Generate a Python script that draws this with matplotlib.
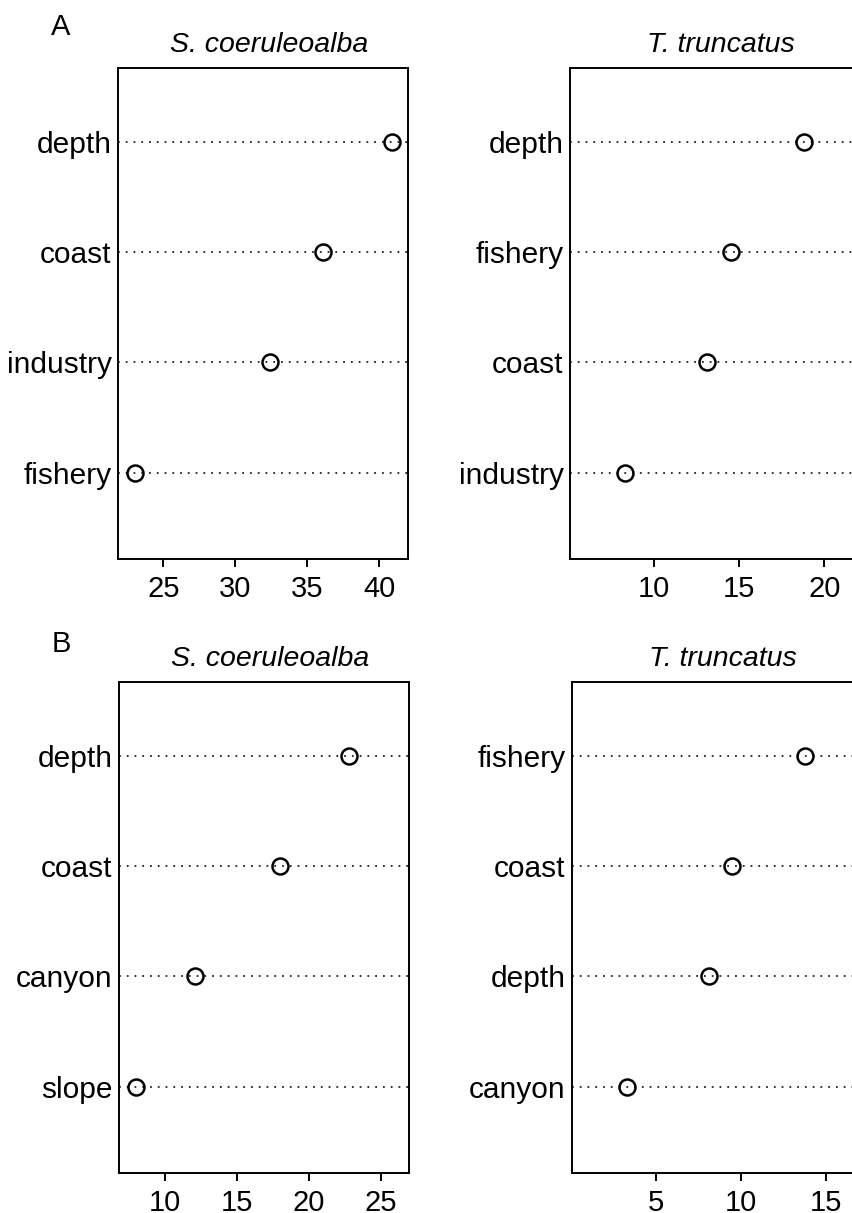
import matplotlib
matplotlib.use("Agg")
import matplotlib.pyplot as plt
import numpy as np

plt.rcParams['font.family'] = ['Liberation Sans', 'DejaVu Sans']

# importancia de variables por especie (A y B)
titles = ["S. coeruleoalba", "T. truncatus"]

a_sc_vars = ["depth", "coast", "industry", "fishery"]
a_sc_vals = [40.9, 36.1, 32.4, 23.0]
a_tt_vars = ["depth", "fishery", "coast", "industry"]
a_tt_vals = [18.8, 14.5, 13.1, 8.3]

b_sc_vars = ["depth", "coast", "canyon", "slope"]
b_sc_vals = [22.8, 18.0, 12.1, 8.0]
b_tt_vars = ["fishery", "coast", "depth", "canyon"]
b_tt_vals = [13.8, 9.5, 8.1, 3.3]

a_sc_ticks = [25, 30, 35, 40]
a_tt_ticks = [10, 15, 20]
b_sc_ticks = [10, 15, 20, 25]
b_tt_ticks = [5, 10, 15]

W, H = 853, 1213
fig = plt.figure(figsize=(W / 100, H / 100), dpi=100)


def panel(x0, y0, x1, y1):
    # caja en pixeles -> fraccion de figura
    return fig.add_axes([x0 / W, 1 - y1 / H, (x1 - x0) / W, (y1 - y0) / H])


def dotchart(ax, names, vals, ticks, xlim, title):
    pos = np.arange(len(names))
    for p in pos:
        ax.plot(xlim, [p, p], color='#222222', lw=1.3, ls=(0, (1, 3.3)), zorder=1)
    ax.plot(vals, pos, 'o', ms=11.5, mfc='none', mec='black', mew=1.8, zorder=3)
    ax.set_xlim(xlim)
    ax.set_ylim(3.783, -0.669)
    ax.set_yticks(pos)
    ax.set_yticklabels(names)
    ax.set_xticks(ticks)
    ax.tick_params(axis='y', length=0, pad=4.5, labelsize=21.5)
    ax.tick_params(axis='x', length=5.5, width=1.4, pad=6, labelsize=21)
    for s in ax.spines.values():
        s.set_linewidth(1.4)
    t = ax.set_title(title, fontstyle='italic', fontsize=20.5, pad=11.5)
    t.set_x(0.52)


ax1 = panel(118, 68, 408.3, 559)
dotchart(ax1, a_sc_vars, a_sc_vals, a_sc_ticks, (21.85, 42.0), titles[0])
ax2 = panel(570, 68, 860, 559)
dotchart(ax2, a_tt_vars, a_tt_vals, a_tt_ticks, (5.07, 22.1), titles[1])
ax3 = panel(119, 682, 409.3, 1173)
dotchart(ax3, b_sc_vars, b_sc_vals, b_sc_ticks, (6.83, 27.0), titles[0])
ax4 = panel(571.7, 682, 861.7, 1173)
dotchart(ax4, b_tt_vars, b_tt_vals, b_tt_ticks, (0.03, 17.12), titles[1])

fig.text(51 / W, 1 - 13 / H, "A", fontsize=21, va='top', ha='left')
fig.text(52 / W, 1 - 630 / H, "B", fontsize=21, va='top', ha='left')

fig.savefig("out.png", dpi=100)
